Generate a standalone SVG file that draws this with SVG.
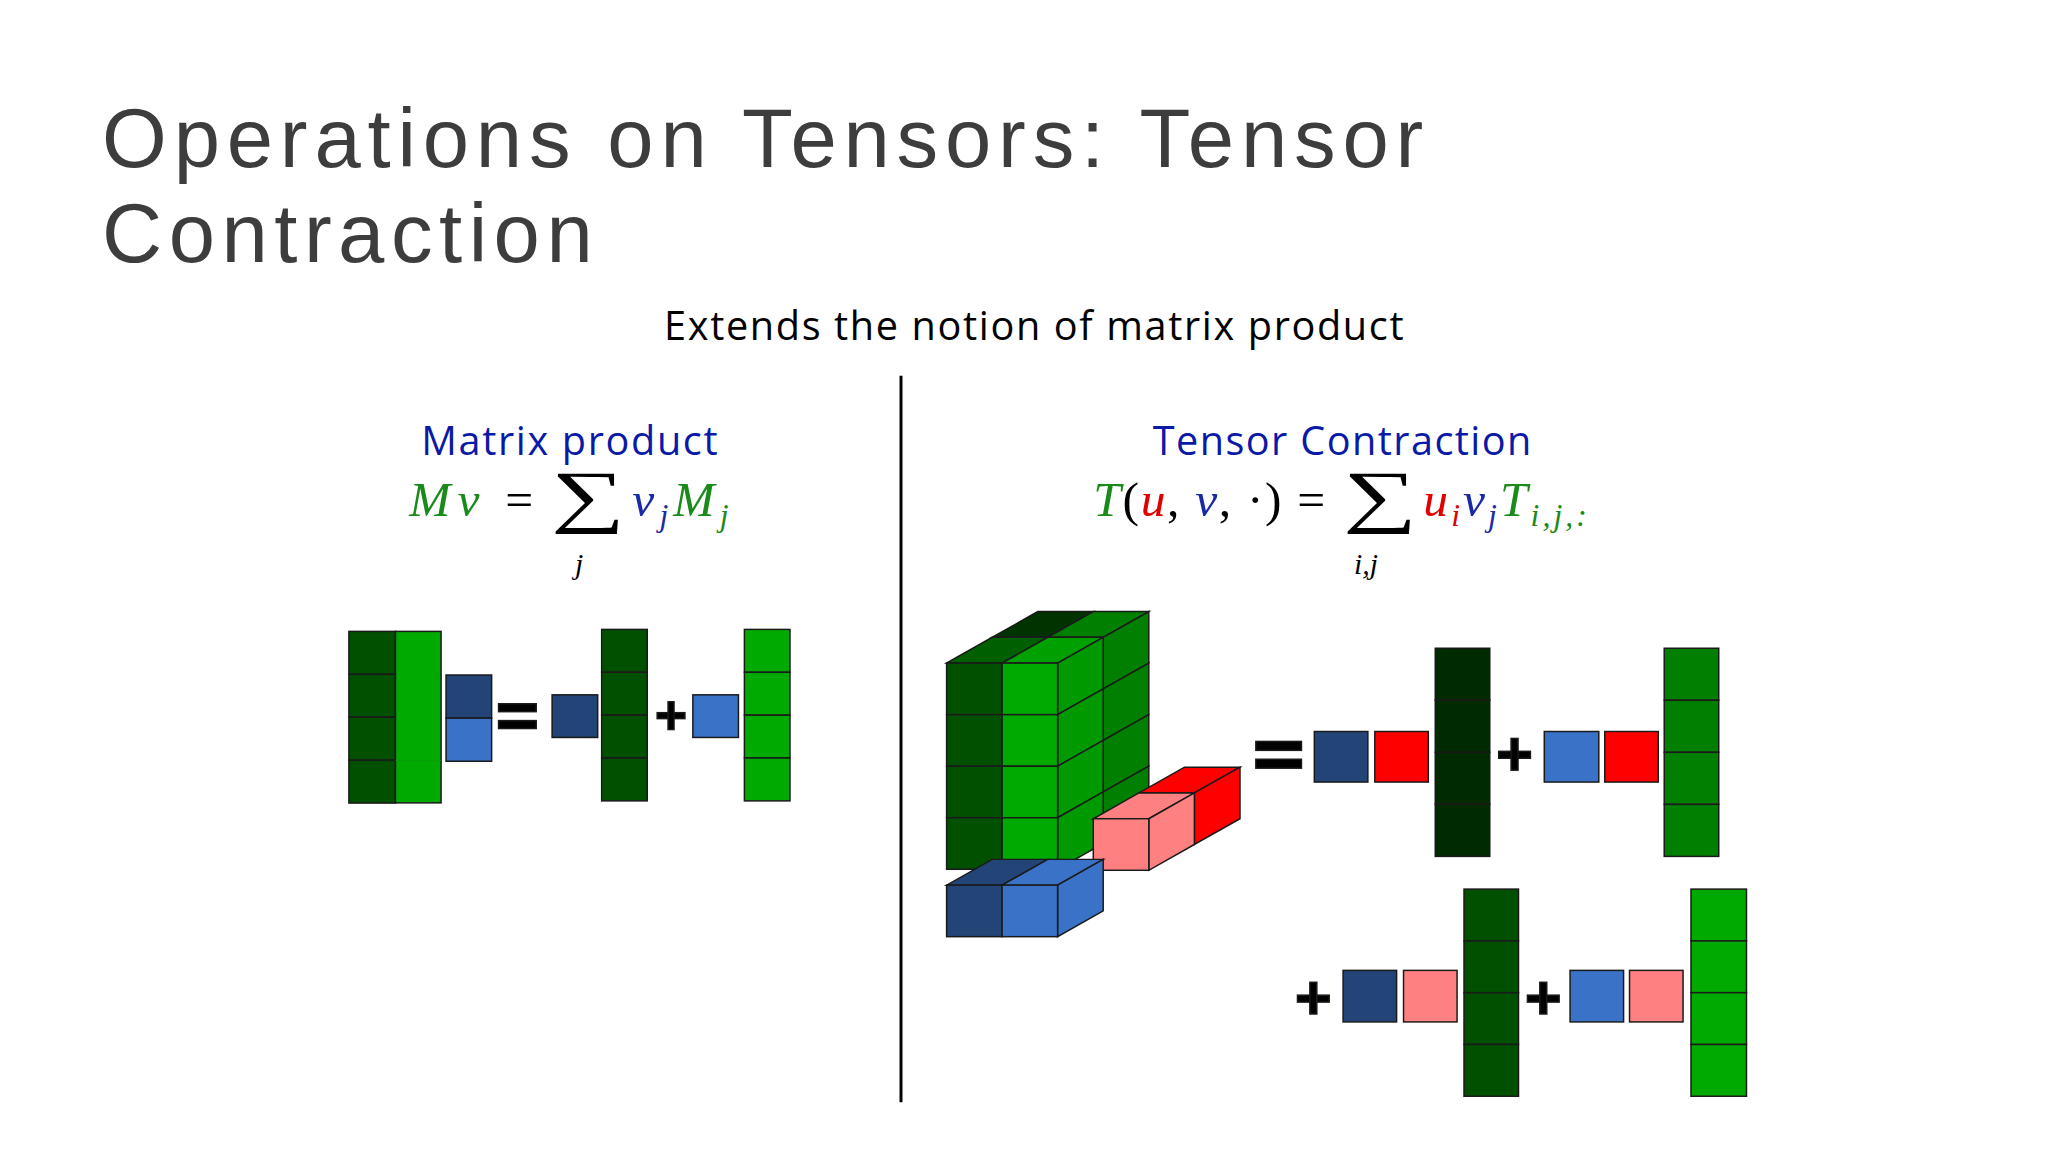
<svg xmlns="http://www.w3.org/2000/svg" width="2048" height="1152" viewBox="0 0 2048 1152">
<style>
.t{font-family:"Liberation Sans",Arial,sans-serif;fill:#3d3d3d}
.s{font-family:"Open Sans","Liberation Sans",sans-serif}
.m{font-family:"Liberation Serif","Times New Roman",serif;font-style:italic}
.r{font-family:"Liberation Serif","Times New Roman",serif}
.c rect,.c polygon{stroke:#1a1a1a;stroke-width:1.5}
</style>
<rect width="2048" height="1152" fill="#fff"/>
<g transform="scale(0.9912)">
<g id="title">
<text class="t" x="103" y="169" font-size="84" textLength="1333" lengthAdjust="spacing">Operations on Tensors: Tensor</text>
<text class="t" x="103" y="264" font-size="84" textLength="495" lengthAdjust="spacing">Contraction</text>
</g>
<text class="s" x="670" y="343" font-size="40" fill="#000" textLength="746" lengthAdjust="spacing">Extends the notion of matrix product</text>
<line x1="909" y1="379" x2="909" y2="1112" stroke="#000" stroke-width="3"/>

<g id="left-head">
<text class="s" x="425" y="459" font-size="40" fill="#0a1aa6" textLength="299" lengthAdjust="spacing">Matrix product</text>
<text x="413" y="521" font-size="50" textLength="125" lengthAdjust="spacing"><tspan class="m" fill="#1a8a1a">Mv</tspan><tspan class="r" fill="#000"> =</tspan></text>
<text class="r" font-size="70" fill="#000" transform="translate(556,524) scale(1.5,1)">∑</text>
<text class="m" x="580" y="579" font-size="30" fill="#000">j</text>
<text x="638" y="521" font-size="50" textLength="97" lengthAdjust="spacing"><tspan class="m" fill="#1a2aa6">v</tspan><tspan class="m" fill="#1a2aa6" font-size="32" dy="10">j</tspan><tspan class="m" fill="#1a8a1a" dy="-10">M</tspan><tspan class="m" fill="#1a8a1a" font-size="32" dy="10">j</tspan></text>
</g>

<g id="left-diagram" class="c">
<rect x="352" y="637" width="47" height="43.3" fill="#005000"/>
<rect x="352" y="680.3" width="47" height="43.3" fill="#005000"/>
<rect x="352" y="723.6" width="47" height="43.3" fill="#005000"/>
<rect x="352" y="766.9" width="47" height="43.3" fill="#005000"/>
<rect x="399" y="637" width="46" height="173" fill="#00aa00" stroke="none"/>
<line x1="399" y1="767" x2="445" y2="767" stroke="#0a9a0a"/>
<rect x="450" y="681" width="46" height="43.5" fill="#224477"/>
<rect x="450" y="724.5" width="46" height="43.5" fill="#3a72c8"/>
<rect x="557" y="701" width="46" height="43" fill="#224477"/>
<rect x="607" y="635" width="46" height="43.25" fill="#005000"/>
<rect x="607" y="678.25" width="46" height="43.25" fill="#005000"/>
<rect x="607" y="721.5" width="46" height="43.25" fill="#005000"/>
<rect x="607" y="764.75" width="46" height="43.25" fill="#005000"/>
<rect x="699" y="701" width="46" height="43" fill="#3a72c8"/>
<rect x="751" y="635" width="46" height="43.25" fill="#00aa00"/>
<rect x="751" y="678.25" width="46" height="43.25" fill="#00aa00"/>
<rect x="751" y="721.5" width="46" height="43.25" fill="#00aa00"/>
<rect x="751" y="764.75" width="46" height="43.25" fill="#00aa00"/>
<rect x="503" y="710" width="38" height="8" fill="#000" stroke="none"/>
<rect x="503" y="727" width="38" height="8" fill="#000" stroke="none"/>
<rect x="663" y="719" width="28" height="6" fill="#000" stroke="none"/>
<rect x="674" y="708" width="6" height="28" fill="#000" stroke="none"/>
</g>

<g id="right-head">
<text class="s" x="1163" y="459" font-size="40" fill="#0a1aa6" textLength="382" lengthAdjust="spacing">Tensor Contraction</text>
<text x="1103" y="521" font-size="50" textLength="234" lengthAdjust="spacing"><tspan class="m" fill="#1a8a1a">T</tspan><tspan class="r" fill="#000">(</tspan><tspan class="m" fill="#e00000">u</tspan><tspan class="r" fill="#000">, </tspan><tspan class="m" fill="#1a2aa6">v</tspan><tspan class="r" fill="#000">, ·) =</tspan></text>
<text class="r" font-size="70" fill="#000" transform="translate(1355,524) scale(1.5,1)">∑</text>
<text class="m" x="1366" y="579" font-size="30" fill="#000">i,j</text>
<text x="1436" y="521" font-size="50" textLength="165" lengthAdjust="spacing"><tspan class="m" fill="#e00000">u</tspan><tspan class="m" fill="#e00000" font-size="32" dy="10">i</tspan><tspan class="m" fill="#1a2aa6" dy="-10">v</tspan><tspan class="m" fill="#1a2aa6" font-size="32" dy="10">j</tspan><tspan class="m" fill="#1a8a1a" dy="-10">T</tspan><tspan class="m" fill="#1a8a1a" font-size="32" dy="10">i,j,:</tspan></text>
</g>

<g id="tensor" class="c">
<polygon points="1001,643 1057,643 1103,617 1047,617" fill="#003300"/>
<polygon points="1057,643 1113,643 1159,617 1103,617" fill="#007f00"/>
<polygon points="955,669 1011,669 1057,643 1001,643" fill="#006000"/>
<polygon points="1011,669 1067,669 1113,643 1057,643" fill="#00a000"/>
<polygon points="1113,643 1159,617 1159,669 1113,695" fill="#007f00"/>
<polygon points="1113,695 1159,669 1159,721 1113,747" fill="#007f00"/>
<polygon points="1113,747 1159,721 1159,773 1113,799" fill="#007f00"/>
<polygon points="1113,799 1159,773 1159,825 1113,851" fill="#007f00"/>
<polygon points="1067,669 1113,643 1113,695 1067,721" fill="#009a00"/>
<polygon points="1067,721 1113,695 1113,747 1067,773" fill="#009a00"/>
<polygon points="1067,773 1113,747 1113,799 1067,825" fill="#009a00"/>
<polygon points="1067,825 1113,799 1113,851 1067,877" fill="#009a00"/>
<rect x="955" y="669" width="56" height="52" fill="#005000"/>
<rect x="955" y="721" width="56" height="52" fill="#005000"/>
<rect x="955" y="773" width="56" height="52" fill="#005000"/>
<rect x="955" y="825" width="56" height="52" fill="#005000"/>
<rect x="1011" y="669" width="56" height="52" fill="#00aa00"/>
<rect x="1011" y="721" width="56" height="52" fill="#00aa00"/>
<rect x="1011" y="773" width="56" height="52" fill="#00aa00"/>
<rect x="1011" y="825" width="56" height="52" fill="#00aa00"/>
</g>

<g id="vector-u" class="c">
<polygon points="1149,800 1205,800 1251,774 1195,774" fill="#ff0000"/>
<polygon points="1103,826 1159,826 1205,800 1149,800" fill="#ff8080"/>
<polygon points="1205,800 1251,774 1251,826 1205,852" fill="#ff0000"/>
<polygon points="1159,826 1205,800 1205,852 1159,878" fill="#ff8080"/>
<rect x="1103" y="826" width="56" height="52" fill="#ff8080"/>
</g>

<g id="vector-v" class="c">
<polygon points="955,893 1011,893 1057,867 1001,867" fill="#224477"/>
<polygon points="1011,893 1067,893 1113,867 1057,867" fill="#3a72c8"/>
<polygon points="1067,893 1113,867 1113,919 1067,945" fill="#3a72c8"/>
<rect x="955" y="893" width="56" height="52" fill="#224477"/>
<rect x="1011" y="893" width="56" height="52" fill="#3a72c8"/>
</g>

<g id="result-row1" class="c">
<rect x="1267" y="748" width="46" height="9" fill="#000" stroke="none"/>
<rect x="1267" y="766" width="46" height="9" fill="#000" stroke="none"/>
<rect x="1326" y="738" width="54" height="51" fill="#224477"/>
<rect x="1387" y="738" width="54" height="51" fill="#ff0000"/>
<rect x="1448" y="654" width="55" height="52.5" fill="#002a00"/>
<rect x="1448" y="706.5" width="55" height="52.5" fill="#002a00"/>
<rect x="1448" y="759" width="55" height="52.5" fill="#002a00"/>
<rect x="1448" y="811.5" width="55" height="52.5" fill="#002a00"/>
<rect x="1512" y="758" width="32" height="7" fill="#000" stroke="none"/>
<rect x="1524.5" y="745" width="7" height="32" fill="#000" stroke="none"/>
<rect x="1558" y="738" width="55" height="51" fill="#3a72c8"/>
<rect x="1619" y="738" width="54" height="51" fill="#ff0000"/>
<rect x="1679" y="654" width="55" height="52.5" fill="#007f00"/>
<rect x="1679" y="706.5" width="55" height="52.5" fill="#007f00"/>
<rect x="1679" y="759" width="55" height="52.5" fill="#007f00"/>
<rect x="1679" y="811.5" width="55" height="52.5" fill="#007f00"/>
</g>

<g id="result-row2" class="c">
<rect x="1309" y="1004" width="32" height="7" fill="#000" stroke="none"/>
<rect x="1321.5" y="991" width="7" height="32" fill="#000" stroke="none"/>
<rect x="1355" y="979" width="54" height="52" fill="#224477"/>
<rect x="1416" y="979" width="54" height="52" fill="#ff8080"/>
<rect x="1477" y="897" width="55" height="52.25" fill="#005000"/>
<rect x="1477" y="949.25" width="55" height="52.25" fill="#005000"/>
<rect x="1477" y="1001.5" width="55" height="52.25" fill="#005000"/>
<rect x="1477" y="1053.75" width="55" height="52.25" fill="#005000"/>
<rect x="1541" y="1004" width="32" height="7" fill="#000" stroke="none"/>
<rect x="1553.5" y="991" width="7" height="32" fill="#000" stroke="none"/>
<rect x="1584" y="979" width="54" height="52" fill="#3a72c8"/>
<rect x="1644" y="979" width="54" height="52" fill="#ff8080"/>
<rect x="1706" y="897" width="56" height="52.25" fill="#00aa00"/>
<rect x="1706" y="949.25" width="56" height="52.25" fill="#00aa00"/>
<rect x="1706" y="1001.5" width="56" height="52.25" fill="#00aa00"/>
<rect x="1706" y="1053.75" width="56" height="52.25" fill="#00aa00"/>
</g>
</g>
</svg>
